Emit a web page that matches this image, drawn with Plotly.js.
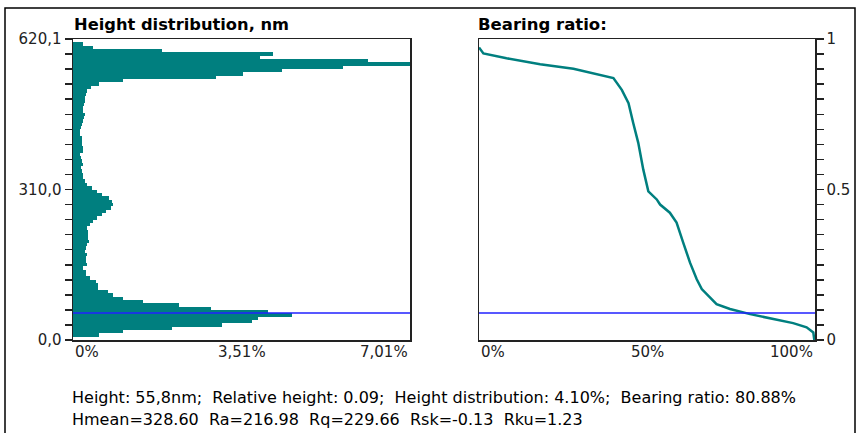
<!DOCTYPE html>
<html>
<head>
<meta charset="utf-8">
<script src="https://cdn.plot.ly/plotly-3.0.1.min.js"></script>
<style>html,body{margin:0;padding:0;background:#fff;}#chart{width:861px;height:433px;}</style>
</head>
<body>
<div id="chart"></div>
<script>
// ---------- DATA ----------
// Height distribution histogram: percent per height bin, bottom (0 nm) to top (620.1 nm)
const heightMax = 620.1;
const histPercent = [
  0, 0.55, 1.03, 2.05, 3.09, 3.72, 3.85, 4.55, 4.06, 2.88,
  2.21, 1.46, 1.04, 0.83, 0.72, 0.53, 0.52, 0.48, 0.36, 0.27,
  0.27, 0.20, 0.29, 0.28, 0.28, 0.30, 0.25, 0.28, 0.30, 0.34,
  0.31, 0.32, 0.32, 0.30, 0.36, 0.42, 0.50, 0.60, 0.68, 0.78,
  0.84, 0.82, 0.75, 0.60, 0.50, 0.39, 0.30, 0.25, 0.20, 0.21,
  0.18, 0.17, 0.20, 0.18, 0.16, 0.15, 0.20, 0.20, 0.18, 0.18,
  0.18, 0.15, 0.15, 0.17, 0.18, 0.20, 0.22, 0.24, 0.21, 0.21,
  0.23, 0.24, 0.25, 0.27, 0.30, 0.38, 0.55, 1.04, 2.97, 3.54,
  4.34, 5.61, 7.01, 6.14, 3.89, 4.17, 1.85, 0.41, 0.20, 0
];
// Bearing ratio curve: bearing ratio (%) vs relative height
const bearingPct = [0, 1.3, 8.2, 18.2, 28.1, 35.0, 40.0, 42.5, 44.5, 45.9, 47.4, 48.9, 50.4, 52.9, 53.9,
  56.8, 58.8, 60.8, 62.8, 64.8, 66.3, 70.7, 74.7, 80.7, 87.6, 93.5, 97.5, 99.5, 99.8];
const relHeight = [0.972, 0.952, 0.936, 0.916, 0.901, 0.884, 0.870, 0.831, 0.787, 0.721, 0.655, 0.566, 0.494, 0.467, 0.450,
  0.423, 0.390, 0.323, 0.257, 0.202, 0.169, 0.119, 0.103, 0.086, 0.070, 0.056, 0.042, 0.025, 0.0];
// Selected cursor values
const cursorHeight = 55.8;      // nm
const cursorRelHeight = 0.09;
// Tick labels
const histXTickVals = [0, 3.51, 7.01];
const histXTickText = ['0%', '3,51%', '7,01%'];
const histYTickText = {0: '0,0', 10: '310,0', 20: '620,1'};
const brXTickVals = [0, 50, 100];
const brXTickText = ['0%', '50%', '100%'];
const brYTickText = {0: '0', 10: '0.5', 20: '1'};
const titleLeft = 'Height distribution, nm';
const titleRight = 'Bearing ratio:';
const infoLine1 = 'Height: 55,8nm;  Relative height: 0.09;  Height distribution: 4.10%;  Bearing ratio: 80.88%';
const infoLine2 = 'Hmean=328.60  Ra=216.98  Rq=229.66  Rsk=-0.13  Rku=1.23';

// ---------- LAYOUT HELPERS ----------
const W = 861, H = 433;
const px = x => x / W;
const py = y => 1 - y / H;
const teal = '#007f7f';
const blue = '#2020ff';
const frame = '#222';
const font = 'DejaVu Sans, sans-serif';
const tickFont = {family: font, size: 15, color: '#222'};

const nBins = histPercent.length;
const binW = heightMax / nBins;
const binCenters = histPercent.map((_, i) => (i + 0.5) * binW);

const histTickVals = [], histTickText = [], brTickVals = [], brTickText = [];
for (let i = 0; i <= 20; i++) {
  histTickVals.push(heightMax * i / 20);
  histTickText.push(histYTickText[i] || '');
  brTickVals.push(i / 20);
  brTickText.push(brYTickText[i] || '');
}

const traces = [
  {type: 'bar', orientation: 'h', x: histPercent, y: binCenters, width: binW,
   marker: {color: teal, line: {width: 0}}, xaxis: 'x', yaxis: 'y', hoverinfo: 'none'},
  {type: 'scatter', mode: 'lines', x: bearingPct, y: relHeight,
   line: {color: teal, width: 2.5}, xaxis: 'x2', yaxis: 'y2', hoverinfo: 'none'}
];

const yDom = [py(340), py(39)];
const axCommon = {showgrid: false, zeroline: false, showline: true, mirror: true,
  linecolor: frame, linewidth: 1.5, fixedrange: true};

const annotations = [];
const anchors = ['left', 'center', 'right'];
histXTickVals.forEach((v, i) => annotations.push({xref: 'x', yref: 'paper', x: v, y: py(341),
  text: histXTickText[i], showarrow: false, xanchor: anchors[i], yanchor: 'top', font: tickFont}));
brXTickVals.forEach((v, i) => annotations.push({xref: 'x2', yref: 'paper', x: v, y: py(341),
  text: brXTickText[i], showarrow: false, xanchor: anchors[i], yanchor: 'top', font: tickFont}));
annotations.push({xref: 'paper', yref: 'paper', x: px(72), y: py(25), text: '<b>' + titleLeft + '</b>',
  showarrow: false, xanchor: 'left', yanchor: 'middle', font: {family: font, size: 16.3, color: '#000'}});
annotations.push({xref: 'paper', yref: 'paper', x: px(476), y: py(25), text: '<b>' + titleRight + '</b>',
  showarrow: false, xanchor: 'left', yanchor: 'middle', font: {family: font, size: 16.5, color: '#000'}});
annotations.push({xref: 'paper', yref: 'paper', x: px(70), y: py(397), text: infoLine1,
  showarrow: false, xanchor: 'left', yanchor: 'middle', font: {family: font, size: 16, color: '#000'}});
annotations.push({xref: 'paper', yref: 'paper', x: px(70), y: py(419), text: infoLine2,
  showarrow: false, xanchor: 'left', yanchor: 'middle', font: {family: font, size: 16, color: '#000'}});

const layout = {
  width: W, height: H,
  margin: {l: 0, r: 0, t: 0, b: 0},
  paper_bgcolor: '#fff', plot_bgcolor: '#fff',
  showlegend: false, bargap: 0,
  xaxis: Object.assign({}, axCommon, {domain: [px(73), px(410)], range: [0, 7.01],
    showticklabels: false, ticks: '', anchor: 'y'}),
  yaxis: Object.assign({}, axCommon, {domain: yDom, range: [0, heightMax], anchor: 'x',
    tickmode: 'array', tickvals: histTickVals, ticktext: histTickText, ticks: 'outside', ticklen: 7,
    tickwidth: 1.5, tickcolor: frame, tickfont: tickFont}),
  xaxis2: Object.assign({}, axCommon, {domain: [px(479), px(815)], range: [0, 100],
    showticklabels: false, ticks: '', anchor: 'y2'}),
  yaxis2: Object.assign({}, axCommon, {domain: yDom, range: [0, 1], anchor: 'x2', side: 'right',
    tickmode: 'array', tickvals: brTickVals, ticktext: brTickText, ticks: 'outside', ticklen: 7,
    tickwidth: 1.5, tickcolor: frame, tickfont: tickFont}),
  shapes: [
    {type: 'line', xref: 'x domain', yref: 'y', x0: 0, x1: 1, y0: cursorHeight, y1: cursorHeight,
     line: {color: blue, width: 1.5}},
    {type: 'line', xref: 'x2 domain', yref: 'y2', x0: 0, x1: 1, y0: cursorRelHeight, y1: cursorRelHeight,
     line: {color: blue, width: 1.5}},
    {type: 'rect', xref: 'paper', yref: 'paper', x0: px(5), x1: px(855), y0: -0.1, y1: py(8),
     line: {color: '#000', width: 1.5}}
  ],
  annotations: annotations
};

Plotly.newPlot('chart', traces, layout, {staticPlot: true, displayModeBar: false});
</script>
</body>
</html>
